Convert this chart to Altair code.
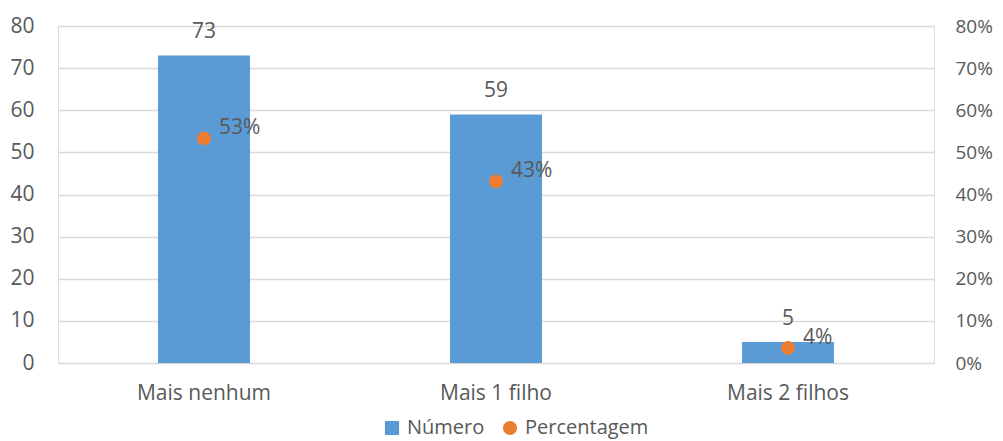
import altair as alt
import pandas as pd

categories = ["Mais nenhum", "Mais 1 filho", "Mais 2 filhos"]
numero = [73, 59, 5]
percentagem = [0.533, 0.431, 0.036]
pct_labels = ["53%", "43%", "4%"]

df = pd.DataFrame({"cat": categories, "num": numero, "pct": percentagem, "plab": pct_labels})

FONT = "Open Sans"
FS = 21
TXT = "#595959"
BLUE = "#5b9bd5"
ORANGE = "#ed7d31"

series_scale = alt.Scale(domain=["Número", "Percentagem"], range=[BLUE, ORANGE])
shape_scale = alt.Scale(domain=["Número", "Percentagem"], range=["square", "circle"])

legend = alt.Legend(title=None, orient="none", legendX=324, legendY=392, direction="horizontal",
                    labelFont=FONT, labelFontSize=20, labelColor=TXT, symbolSize=200,
                    symbolStrokeWidth=0, columnPadding=15, labelOffset=5)

x = alt.X("cat:N", sort=categories, title=None,
          scale=alt.Scale(paddingInner=0.685, paddingOuter=0.3425),
          axis=alt.Axis(labelAngle=0, labelFont=FONT, labelFontSize=FS, labelColor=TXT,
                        ticks=False, domain=False, labelPadding=19))

yleft = alt.Y("num:Q", title=None, scale=alt.Scale(domain=[0, 80]),
              axis=alt.Axis(values=list(range(0, 81, 10)), labelFont=FONT, labelFontSize=FS,
                            labelColor=TXT, ticks=False, domain=False, labelPadding=24,
                            gridColor="#d9d9d9", gridWidth=1.5))

yright = alt.Y("pct:Q", title=None, scale=alt.Scale(domain=[0, 0.8]),
               axis=alt.Axis(orient="right", values=[i / 10 for i in range(9)], format=".0%",
                             labelFont=FONT, labelFontSize=19, labelColor=TXT, ticks=False,
                             domain=False, grid=False, labelPadding=21))

bars = alt.Chart(df).transform_calculate(series="'Número'").mark_bar(size=92).encode(
    x=x, y=yleft,
    color=alt.Color("series:N", scale=series_scale, legend=legend),
)
bar_text = alt.Chart(df).mark_text(baseline="bottom", dy=-13, font=FONT, fontSize=FS, color=TXT).encode(
    x=x, y=yleft, text="num:Q"
)

points = alt.Chart(df).transform_calculate(series="'Percentagem'").mark_point(
    filled=True, size=190, opacity=1).encode(
    x=x, y=yright,
    color=alt.Color("series:N", scale=series_scale, legend=legend),
    shape=alt.Shape("series:N", scale=shape_scale, legend=legend),
)
pt_text = alt.Chart(df).mark_text(align="left", baseline="middle", dx=15, dy=-10, font=FONT,
                                  fontSize=FS, color=TXT).encode(
    x=x, y=yright, text="plab:N"
)

chart = alt.layer(alt.layer(bars, bar_text), alt.layer(points, pt_text)).resolve_scale(
    y="independent"
).properties(
    width=876, height=337,
    autosize=alt.AutoSizeParams(type="none"),
    padding={"left": 50, "top": 18, "right": 60, "bottom": 77},
).configure_view(strokeWidth=0, stroke="transparent").configure(background="white")

chart.save("out.html", embed_options={"renderer": "svg", "actions": False})
